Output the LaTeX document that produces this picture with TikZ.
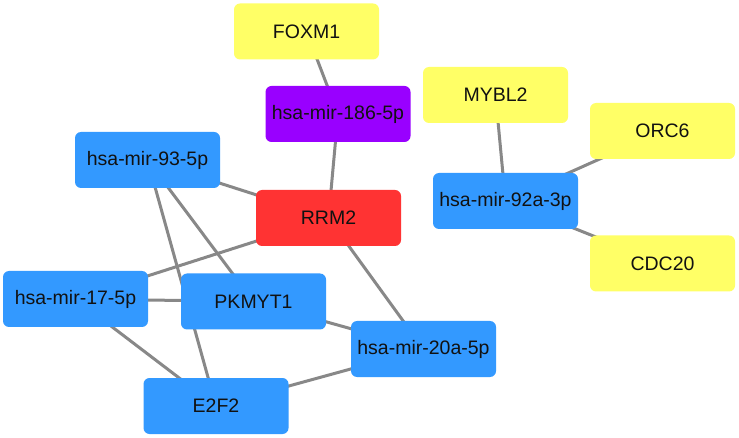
\documentclass[tikz,border=0pt]{standalone}
\usepackage{fontspec}
\setmainfont{Liberation Sans}
\usetikzlibrary{backgrounds}
\definecolor{nblue}{HTML}{3399FF}
\definecolor{nyellow}{HTML}{FFFF66}
\definecolor{nred}{HTML}{FF3333}
\definecolor{npurple}{HTML}{9900FF}
\definecolor{edgegray}{HTML}{888888}
\definecolor{txt}{HTML}{111111}
\begin{document}
\begin{tikzpicture}[x=1pt,y=-1pt,
  nbox/.style={rectangle,rounded corners=6pt,minimum width=145pt,minimum height=56pt,inner sep=0pt,text=txt,font=\fontsize{19.5}{22}\selectfont},
  gene/.style={nbox,fill=nyellow},
  mirna/.style={nbox,fill=nblue},
  hub/.style={nbox,fill=nred},
  mir186/.style={nbox,fill=npurple},
  edge/.style={draw=edgegray,line width=3pt}]
\useasboundingbox (0,0) rectangle (739,438);
\node[gene]  (foxm1) at (306.5,31.5) {FOXM1};
\node[mir186] (m186) at (338,114) {hsa-mir-186-5p};
\node[gene]  (mybl2) at (495.5,95) {MYBL2};
\node[gene]  (orc6) at (662.5,131) {ORC6};
\node[mirna] (m93) at (147.5,160) {hsa-mir-93-5p};
\node[hub]   (rrm2) at (328.5,218) {RRM2};
\node[mirna] (m92) at (505.5,201) {hsa-mir-92a-3p};
\node[gene]  (cdc20) at (662.5,263.5) {CDC20};
\node[mirna] (m17) at (75.5,299) {hsa-mir-17-5p};
\node[mirna] (pkmyt1) at (253.5,301.5) {PKMYT1};
\node[mirna] (m20) at (423.5,349) {hsa-mir-20a-5p};
\node[mirna] (e2f2) at (216,406) {E2F2};
\begin{scope}[on background layer]
\fill[white] (0,0) rectangle (739,438);
\path[edge] (foxm1.center) -- (m186.center);
\path[edge] (m186.center) -- (rrm2.center);
\path[edge] (mybl2.center) -- (m92.center);
\path[edge] (orc6.center) -- (m92.center);
\path[edge] (cdc20.center) -- (m92.center);
\path[edge] (m93.center) -- (rrm2.center);
\path[edge] (m93.center) -- (pkmyt1.center);
\path[edge] (m93.center) -- (e2f2.center);
\path[edge] (rrm2.center) -- (m17.center);
\path[edge] (rrm2.center) -- (m20.center);
\path[edge] (m17.center) -- (pkmyt1.center);
\path[edge] (m17.center) -- (e2f2.center);
\path[edge] (pkmyt1.center) -- (m20.center);
\path[edge] (e2f2.center) -- (m20.center);
\end{scope}
\end{tikzpicture}
\end{document}
